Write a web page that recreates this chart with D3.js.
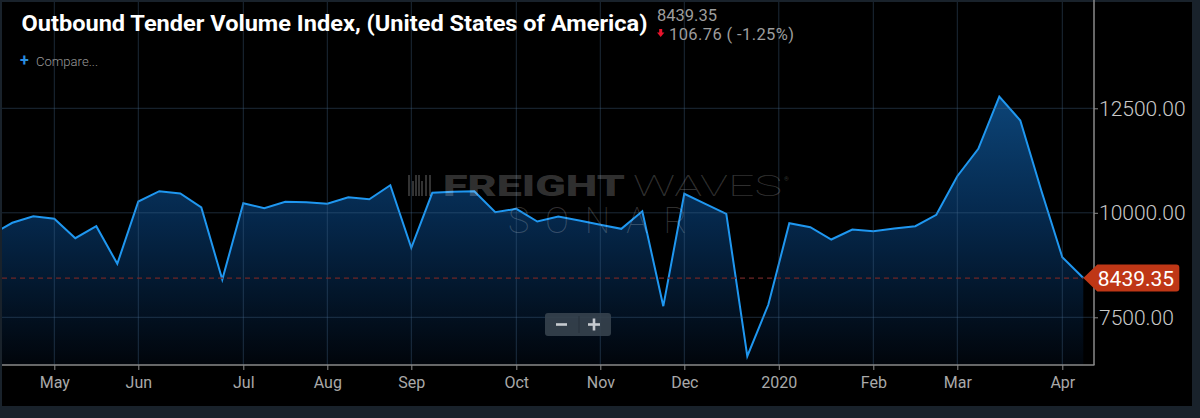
<!DOCTYPE html>
<html lang="en">
<head>
    <meta charset="UTF-8">
    <script src="https://d3js.org/d3.v7.min.js"></script>
    <style>
        html, body {
            margin: 0;
            padding: 0;
            background: #19222b;
            font-family: Roboto, "Noto Sans", sans-serif;
        }
        svg { display: block; }
    </style>
</head>
<body>
    <div id="chart"></div>
    <script>
        // weekly index values, one per point (ordinal spacing like the source chart)
        const values = [
            9474, 9761, 9919, 9856, 9392, 9679, 8780, 10270, 10517, 10462,
            10127, 8404, 10230, 10110, 10263, 10250, 10215, 10373, 10325, 10660,
            9163, 10478, 10502, 10517, 10014, 10096, 9792, 9911, 9816, 9713,
            9617, 10038, 7766, 10455, 10215, 9976, 6569, 7799, 9751, 9656,
            9361, 9600, 9560, 9624, 9679, 9952, 10876, 11531, 12782, 12208,
            10533, 8938, 8439.35
        ];
        const monthLabels = ["May", "Jun", "Jul", "Aug", "Sep", "Oct", "Nov", "Dec", "2020", "Feb", "Mar", "Apr"];
        const monthAtPoint = [3, 7, 12, 16, 20, 25, 29, 33, 37.5, 42, 46, 51];
        const yTicks = [7500, 10000, 12500];
        const title = "Outbound Tender Volume Index, (United States of America)";
        const lastValue = 8439.35;
        const change = 106.76;
        const changePct = -1.25;

        const width = 1200, height = 418;
        const plot = { left: 2, right: 1094, top: 2, bottom: 365 };

        const svg = d3.select("#chart").append("svg")
            .attr("width", width)
            .attr("height", height);

        // panel
        svg.append("rect")
            .attr("x", 2).attr("y", 2)
            .attr("width", 1190).attr("height", 404)
            .attr("fill", "#000");

        const x = d3.scaleLinear()
            .domain([0, values.length - 1])
            .range([-8.7, 1083.3]);

        const y = d3.scaleLinear()
            .domain([7500, 12500])
            .range([317.3, 108.3]);

        const defs = svg.append("defs");
        defs.append("clipPath").attr("id", "clip")
            .append("rect")
            .attr("x", plot.left).attr("y", plot.top)
            .attr("width", plot.right - plot.left).attr("height", plot.bottom - plot.top);

        const grad = defs.append("linearGradient")
            .attr("id", "fillGrad")
            .attr("gradientUnits", "userSpaceOnUse")
            .attr("x1", 0).attr("x2", 0)
            .attr("y1", 96).attr("y2", plot.bottom);
        grad.append("stop").attr("offset", 0).attr("stop-color", "#0c4477");
        grad.append("stop").attr("offset", 0.45).attr("stop-color", "#05284c");
        grad.append("stop").attr("offset", 1).attr("stop-color", "#01050b");

        const g = svg.append("g").attr("clip-path", "url(#clip)");

        // area under the line
        const area = d3.area()
            .x((d, i) => x(i))
            .y0(plot.bottom)
            .y1(d => y(d));

        g.append("path")
            .datum(values)
            .attr("d", area)
            .attr("fill", "url(#fillGrad)");

        // grid
        svg.append("g")
            .selectAll("line")
            .data(monthAtPoint)
            .enter().append("line")
            .attr("x1", d => x(d)).attr("x2", d => x(d))
            .attr("y1", plot.top).attr("y2", plot.bottom)
            .attr("stroke", "#4a6f94")
            .attr("stroke-opacity", 0.38)
            .attr("stroke-width", 1);

        svg.append("g")
            .selectAll("line")
            .data(yTicks)
            .enter().append("line")
            .attr("x1", plot.left).attr("x2", plot.right)
            .attr("y1", d => y(d)).attr("y2", d => y(d))
            .attr("stroke", "#4a6f94")
            .attr("stroke-opacity", 0.38)
            .attr("stroke-width", 1);

        // watermark
        const wm = svg.append("g").attr("fill", "#fff").attr("fill-opacity", 0.2);
        [0, 4, 7, 10, 13, 17, 21].forEach((dx, i) => {
            wm.append("rect")
                .attr("x", 408 + dx).attr("y", i % 3 === 1 ? 181 : 175)
                .attr("width", 2).attr("height", i % 3 === 1 ? 15 : 21);
        });
        wm.append("text")
            .attr("x", 443).attr("y", 196)
            .attr("font-size", 29).attr("font-weight", 900)
            .attr("textLength", 182).attr("lengthAdjust", "spacingAndGlyphs")
            .text("FREIGHT");
        wm.append("text")
            .attr("x", 633).attr("y", 196)
            .attr("font-size", 29).attr("font-weight", 100)
            .attr("textLength", 149).attr("lengthAdjust", "spacingAndGlyphs")
            .text("WAVES");
        wm.append("text")
            .attr("x", 784).attr("y", 181)
            .attr("font-size", 6)
            .text("®");
        wm.append("text")
            .attr("x", 508).attr("y", 233)
            .attr("font-size", 36).attr("font-weight", 100)
            .attr("textLength", 179).attr("lengthAdjust", "spacing")
            .text("SONAR");

        // last value dashed line
        const lastY = y(lastValue);
        const lastX = x(values.length - 1);
        svg.append("line")
            .attr("x1", plot.left).attr("x2", lastX)
            .attr("y1", lastY).attr("y2", lastY)
            .attr("stroke", "#6e2626")
            .attr("stroke-width", 1.2)
            .attr("stroke-dasharray", "5,4");

        // line
        g.append("path")
            .datum(values)
            .attr("d", d3.line().x((d, i) => x(i)).y(d => y(d)))
            .attr("fill", "none")
            .attr("stroke", "#1f97f0")
            .attr("stroke-width", 2)
            .attr("stroke-linejoin", "miter");

        // axes
        const xAxis = svg.append("g")
            .attr("transform", `translate(0,${plot.bottom})`)
            .call(d3.axisBottom(x)
                .tickValues(monthAtPoint)
                .tickSize(5)
                .tickFormat((d, i) => monthLabels[i]));
        xAxis.select(".domain").remove();
        xAxis.selectAll(".tick line").attr("stroke", "#8a8a8a");
        xAxis.selectAll("text")
            .attr("y", 12)
            .attr("dy", "0.71em")
            .attr("fill", "#a9a9a9")
            .style("font-family", "Roboto")
            .style("font-size", "16px");

        const yAxis = svg.append("g")
            .attr("transform", `translate(${plot.right},0)`)
            .call(d3.axisRight(y)
                .tickValues(yTicks)
                .tickSize(4)
                .tickFormat(d3.format(".2f")));
        yAxis.select(".domain").remove();
        yAxis.selectAll(".tick line").attr("stroke", "#8a8a8a");
        yAxis.selectAll("text")
            .attr("x", 5)
            .attr("fill", "#c9c9c9")
            .style("font-family", "Roboto")
            .style("font-weight", 300)
            .style("font-size", "21px");

        svg.append("line")
            .attr("x1", plot.left).attr("x2", plot.right + 0.5)
            .attr("y1", plot.bottom).attr("y2", plot.bottom)
            .attr("stroke", "#8a8a8a").attr("stroke-width", 1.5);
        svg.append("line")
            .attr("x1", plot.right).attr("x2", plot.right)
            .attr("y1", 0).attr("y2", plot.bottom)
            .attr("stroke", "#8a8a8a").attr("stroke-width", 1.5);

        // last value badge
        const bx = lastX, bh = 27;
        svg.append("path")
            .attr("d", `M${bx},${lastY} L${bx + 14},${lastY - bh / 2} L${bx + 93},${lastY - bh / 2} Q${bx + 96},${lastY - bh / 2} ${bx + 96},${lastY - bh / 2 + 3} L${bx + 96},${lastY + bh / 2 - 3} Q${bx + 96},${lastY + bh / 2} ${bx + 93},${lastY + bh / 2} L${bx + 14},${lastY + bh / 2} Z`)
            .attr("fill", "#bf3716");
        svg.append("text")
            .attr("x", bx + 14.5).attr("y", lastY)
            .attr("dy", "0.36em")
            .attr("fill", "#fff")
            .style("font-size", "21px")
            .style("font-weight", 400)
            .text(lastValue.toFixed(2));

        // zoom buttons
        const zb = svg.append("g");
        zb.append("rect")
            .attr("x", 545).attr("y", 313)
            .attr("width", 66).attr("height", 23).attr("rx", 3)
            .attr("fill", "#36424e").attr("fill-opacity", 0.9);
        zb.append("line")
            .attr("x1", 579).attr("x2", 579).attr("y1", 316).attr("y2", 333)
            .attr("stroke", "#27313b");
        zb.append("rect").attr("x", 556).attr("y", 323.2).attr("width", 11).attr("height", 2.6).attr("fill", "#c6cacf");
        zb.append("rect").attr("x", 588).attr("y", 323.2).attr("width", 12).attr("height", 2.6).attr("fill", "#c6cacf");
        zb.append("rect").attr("x", 592.7).attr("y", 318.5).attr("width", 2.6).attr("height", 12).attr("fill", "#c6cacf");

        // header
        svg.append("text")
            .attr("x", 21.5).attr("y", 31)
            .attr("fill", "#fff")
            .attr("textLength", 626).attr("lengthAdjust", "spacingAndGlyphs")
            .style("font-size", "22.5px")
            .style("font-weight", 700)
            .text(title);

        svg.append("text")
            .attr("x", 657).attr("y", 20.5)
            .attr("fill", "#9d9d9d")
            .style("font-size", "16.5px")
            .text(lastValue.toFixed(2));

        svg.append("path")
            .attr("d", "M659.2,29 h3 v3.5 h2.2 l-3.7,4.5 l-3.7,-4.5 h2.2 z")
            .attr("fill", "#e8142c");

        svg.append("text")
            .attr("x", 669).attr("y", 39.5)
            .attr("fill", "#9d9d9d")
            .attr("textLength", 125).attr("lengthAdjust", "spacing")
            .style("font-size", "16.5px")
            .text(`${change.toFixed(2)} ( ${changePct.toFixed(2)}%)`);

        svg.append("text")
            .attr("x", 20).attr("y", 66)
            .attr("fill", "#2a8ee0")
            .style("font-size", "16px")
            .style("font-weight", 700)
            .text("+");
        svg.append("text")
            .attr("x", 36).attr("y", 66)
            .attr("fill", "#999")
            .attr("textLength", 62).attr("lengthAdjust", "spacingAndGlyphs")
            .style("font-size", "13px")
            .style("font-weight", 300)
            .text("Compare...");
    </script>
</body>
</html>
